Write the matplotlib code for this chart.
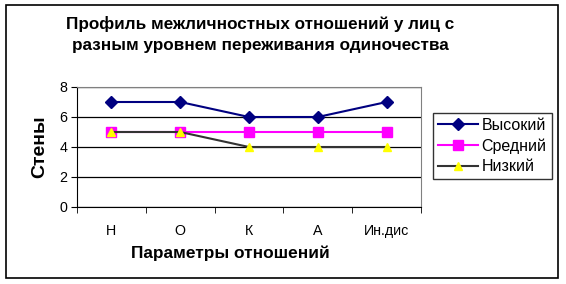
import matplotlib
matplotlib.use("Agg")
import matplotlib.pyplot as plt
from matplotlib.patches import Rectangle
from matplotlib.ticker import FixedLocator, NullFormatter

plt.rcParams['font.family'] = ['Liberation Sans', 'DejaVu Sans']

categories = ["Н", "О", "К", "А", "Ин.дис"]
high = [7, 7, 6, 6, 7]
mid = [5, 5, 5, 5, 5]
low = [5, 5, 4, 4, 4]
series_names = ["Высокий", "Средний", "Низкий"]
title = "Профиль межличностных отношений у лиц с\nразным уровнем переживания одиночества"

W, H = 566, 284
fig = plt.figure(figsize=(W / 100, H / 100), dpi=100)

# outer border
fig.patches.append(Rectangle((6 / W, 1 - 278 / H), (558 - 6) / W, (278 - 5) / H,
                             transform=fig.transFigure, fill=False,
                             edgecolor='black', linewidth=1.2))

ax = fig.add_axes([77 / W, 1 - 207 / H, (421 - 77) / W, (207 - 87) / H])
x = list(range(len(categories)))

ax.plot(x, high, color='#000080', marker='D', markersize=6.5, linewidth=1.5,
        markerfacecolor='#000080', markeredgecolor='#000080', label=series_names[0])
ax.plot(x, mid, color='#FF00FF', marker='s', markersize=7.5, linewidth=1.5,
        markerfacecolor='#FF00FF', markeredgecolor='#FF00FF', label=series_names[1])
ax.plot(x, low, color='#333333', marker='^', markersize=6, linewidth=1.5,
        markerfacecolor='#FFFF00', markeredgecolor='#FFFF00', label=series_names[2])

ax.set_xlim(-0.5, len(categories) - 0.5)
ax.set_ylim(0, 8)
ax.set_yticks([0, 2, 4, 6, 8])
ax.yaxis.grid(True, color='black', linewidth=0.9)
ax.set_axisbelow(True)

ax.set_xticks(x)
ax.set_xticklabels(categories, fontsize=10.3)
ax.tick_params(axis='x', which='major', length=0, pad=12)
ax.xaxis.set_minor_locator(FixedLocator([i - 0.5 for i in range(len(categories) + 1)]))
ax.xaxis.set_minor_formatter(NullFormatter())
ax.tick_params(axis='x', which='minor', length=4, direction='out', color='black')
ax.tick_params(axis='y', length=4, direction='out', labelsize=10.3, pad=3)

for s in ['top', 'right']:
    ax.spines[s].set_color('#808080')
ax.spines['left'].set_color('black')
ax.spines['bottom'].set_color('black')

ax.set_ylabel("Стены", fontsize=14, fontweight='bold', labelpad=8)
ax.set_xlabel("Параметры отношений", fontsize=12.4, fontweight='bold', labelpad=7)
ax.xaxis.set_label_coords((230 - 77) / (421 - 77), -0.32)

fig.text(260 / W, 1 - 34.5 / H, title, ha='center', va='center',
         fontsize=12.3, fontweight='bold', linespacing=1.5)

leg = fig.legend(loc='upper left', bbox_to_anchor=(433 / W, 1 - 113 / H),
                 frameon=True, fancybox=False, fontsize=11.5, handlelength=2.5,
                 borderpad=0.3, labelspacing=0.35, handletextpad=0.25,
                 borderaxespad=0)
leg.get_frame().set_edgecolor('black')
leg.get_frame().set_linewidth(1.0)

fig.savefig("out.png", dpi=100)
